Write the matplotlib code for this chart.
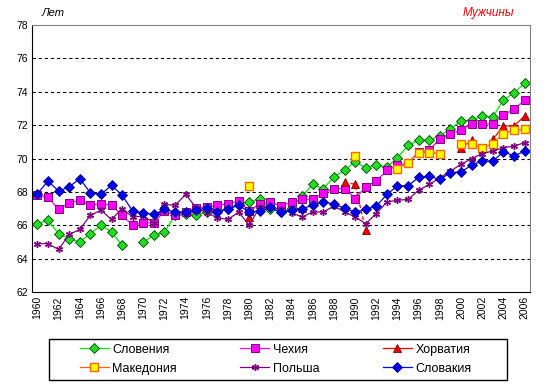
import numpy as np
import matplotlib
matplotlib.use('Agg')
import matplotlib.pyplot as plt
from matplotlib.patches import Rectangle

nan = np.nan
years = np.arange(1960, 2007)

# Словения
slovenia = [66.1, 66.3, 65.5, 65.2, 65.0, 65.5, 66.0, 65.6, 64.8, nan,
            65.0, 65.4, 65.6, 66.6, 66.65, 66.6, 66.8, 66.85, 67.0, 67.2,
            67.4, 67.55, 67.0, 66.8, 67.05, 67.75, 68.45, 68.2, 68.9, 69.3,
            69.8, 69.45, 69.6, 69.5, 70.05, 70.8, 71.1, 71.1, 71.35, 71.8,
            72.25, 72.3, 72.55, 72.5, 73.5, 73.95, 74.5]
# Чехия
czech = [67.8, 67.7, 66.95, 67.35, 67.5, 67.2, 67.3, 67.2, 66.6, 66.0,
         66.15, 66.15, 66.85, 66.6, 66.8, 67.05, 67.1, 67.2, 67.3, 67.45,
         66.85, 67.3, 67.4, 67.15, 67.4, 67.55, 67.55, 67.95, 68.2, 68.2,
         67.6, 68.3, 68.65, 69.3, 69.6, 69.75, 70.4, 70.5, 71.2, 71.5,
         71.7, 72.1, 72.1, 72.05, 72.6, 72.95, 73.5]
# Хорватия
croatia = [nan] * 20 + [66.5, nan, nan, nan, nan, 67.05, nan, nan, nan, 68.6,
                        68.45, 65.7, nan, nan, nan, nan, nan, nan, nan, nan,
                        70.65, 71.1, nan, 71.15, 71.95, 71.95, 72.55]
# Македония
macedonia = [nan] * 20 + [68.35, nan, nan, nan, nan, nan, nan, nan, nan, nan,
                          70.15, nan, nan, nan, 69.4, 69.75, 70.35, 70.35, 70.3, nan,
                          70.9, 70.9, 70.65, 70.9, 71.5, 71.7, 71.75]
# Польша
poland = [64.9, 64.9, 64.55, 65.45, 65.75, 66.6, 66.9, 66.35, 67.0, 66.5,
          66.55, 66.15, 67.25, 67.2, 67.85, 67.05, 66.75, 66.45, 66.35, 66.8,
          66.0, 67.1, 67.1, 66.95, 66.75, 66.5, 66.8, 66.8, 67.15, 66.8,
          66.5, 66.1, 66.7, 67.4, 67.5, 67.55, 68.1, 68.45, 68.85, 69.25,
          69.65, 70.0, 70.3, 70.45, 70.65, 70.75, 70.95]
# Словакия
slovakia = [67.9, 68.65, 68.05, 68.3, 68.8, 67.95, 67.85, 68.4, 67.8, 66.85,
            66.75, 66.65, 66.95, 66.8, 66.8, 66.9, 67.05, 66.8, 66.98, 67.2,
            66.8, 66.85, 67.07, 66.77, 66.9, 67.0, 67.2, 67.4, 67.27, 67.02,
            66.8, 66.95, 67.15, 67.85, 68.37, 68.37, 68.87, 68.93, 68.75, 69.15,
            69.2, 69.6, 69.85, 69.85, 70.4, 70.17, 70.43]

plt.rcParams['font.family'] = ['Liberation Sans', 'DejaVu Sans']

fig = plt.figure(figsize=(5.44, 3.92), dpi=100)
ax = fig.add_axes([0.059, 0.255, 0.915, 0.681])

ax.plot(years, slovenia, '-', color='#00ee00', lw=0.9, marker='D', ms=4.8,
        mfc='#22dd22', mec='#004400', mew=0.6, label='Словения')
ax.plot(years, czech, '-', color='#ff00ff', lw=0.9, marker='s', ms=5.3,
        mfc='#ff00ff', mec='#800080', mew=0.7, label='Чехия')

cro = np.array(croatia)
early = np.where(years <= 1991, cro, nan)
late = np.where(years > 1991, cro, nan)
ax.plot(years, early, '--', color='#ff0000', lw=0.9, marker='^', ms=5.3,
        mfc='#ee0000', mec='#800000', mew=0.6, dashes=(3, 2))
ax.plot(years, late, '-', color='#ff0000', lw=0.9, marker='^', ms=5.3,
        mfc='#ee0000', mec='#800000', mew=0.6, label='Хорватия')

ax.plot(years, macedonia, '-', color='#ff6600', lw=0.9, marker='s', ms=5.3,
        mfc='#ffff00', mec='#ff6600', mew=1.0, label='Македония')
ax.plot(years, poland, '-', color='#800080', lw=0.9, marker=(6, 2, 0), ms=5,
        mec='#800080', mew=1.0, label='Польша')
ax.plot(years, slovakia, '-', color='#0000ff', lw=0.9, marker='D', ms=4.8,
        mfc='#0000ee', mec='#000080', mew=0.6, label='Словакия')

ax.set_xlim(1959.5, 2006.5)
ax.set_ylim(62, 78)
ax.set_yticks(np.arange(62, 79, 2))
ax.set_xticks(years[::2])
ax.set_xticklabels([str(y) for y in years[::2]], rotation=90)
ax.tick_params(length=0, labelsize=7.5, pad=3)
for g in range(64, 78, 2):
    ax.axhline(g, color='black', lw=0.8, ls=(0, (3, 2.5)), zorder=0)

for s in ['top', 'right']:
    ax.spines[s].set_color('#808080')
for s in ['left', 'bottom']:
    ax.spines[s].set_color('black')

fig.text(0.077, 0.958, 'Лет', fontsize=8, style='italic')
fig.text(0.945, 0.958, 'Мужчины', fontsize=8.5, style='italic', color='red', ha='right')

# legend box
fig.patches.append(Rectangle((0.09, 0.031), 0.842, 0.105, transform=fig.transFigure,
                             fill=False, edgecolor='black', lw=1.0))
h, l = ax.get_legend_handles_labels()
order = [0, 3, 1, 4, 2, 5]
leg = fig.legend([h[i] for i in order], [l[i] for i in order], ncol=3,
                 loc='center', bbox_to_anchor=(0.147, 0.043, 0.72, 0.082),
                 mode='expand', fontsize=9, frameon=False,
                 handlelength=2.3, handletextpad=0.3, borderpad=0,
                 labelspacing=0.55, borderaxespad=0)

fig.savefig('out.png', dpi=100)
